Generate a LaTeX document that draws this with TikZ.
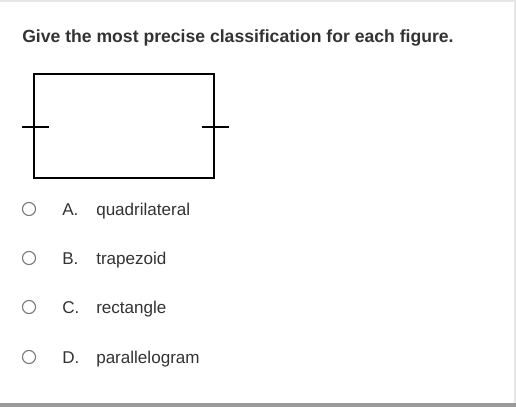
\documentclass[tikz,border=0pt]{standalone}
\usepackage{fontspec}
\setmainfont{Liberation Sans}
\definecolor{txt}{HTML}{333333}
\definecolor{radio}{HTML}{777777}
\definecolor{band}{HTML}{999999}
\definecolor{topline}{HTML}{E6E6E6}
\begin{document}
\begin{tikzpicture}[x=0.75pt,y=-0.75pt,
  optlabel/.style={anchor=base west,inner sep=0pt,text=txt,font=\fontsize{12.8}{15}\selectfont},
  radiobtn/.style={circle,draw=radio,line width=0.8pt,minimum size=9.8pt,inner sep=0pt},
  figline/.style={line width=1.5pt,black}]
\useasboundingbox (0,0) rectangle (516,407);
\fill[white] (0,0) rectangle (516,407);
\fill[topline] (0,0) rectangle (516,2);
\fill[band] (0,403) rectangle (516,407);
\fill[topline] (514,2) rectangle (516,403);
\node[anchor=base west,inner sep=0pt,text=txt,font=\bfseries\fontsize{13.2}{15}\selectfont] (title) at (22,42) {Give the most precise classification for each figure.};
% figure
\coordinate (tl) at (34,74);
\coordinate (br) at (214,178);
\draw[figline] (tl) rectangle (br);
\coordinate (lt1) at (22,127); \coordinate (lt2) at (49,127);
\coordinate (rt1) at (202,127); \coordinate (rt2) at (229,127);
\draw[figline] (lt1) -- (lt2);
\draw[figline] (rt1) -- (rt2);
% options
\foreach \y/\l/\t/\n in {209/A./quadrilateral/a,258/B./trapezoid/b,307/C./rectangle/c,357/D./parallelogram/d}{
  \node[radiobtn] (r\n) at (29,\y) {};
  \node[optlabel] (l\n) at (62,\y+6) {\l};
  \node[optlabel] (t\n) at (96,\y+6) {\t};
}
\end{tikzpicture}
\end{document}
